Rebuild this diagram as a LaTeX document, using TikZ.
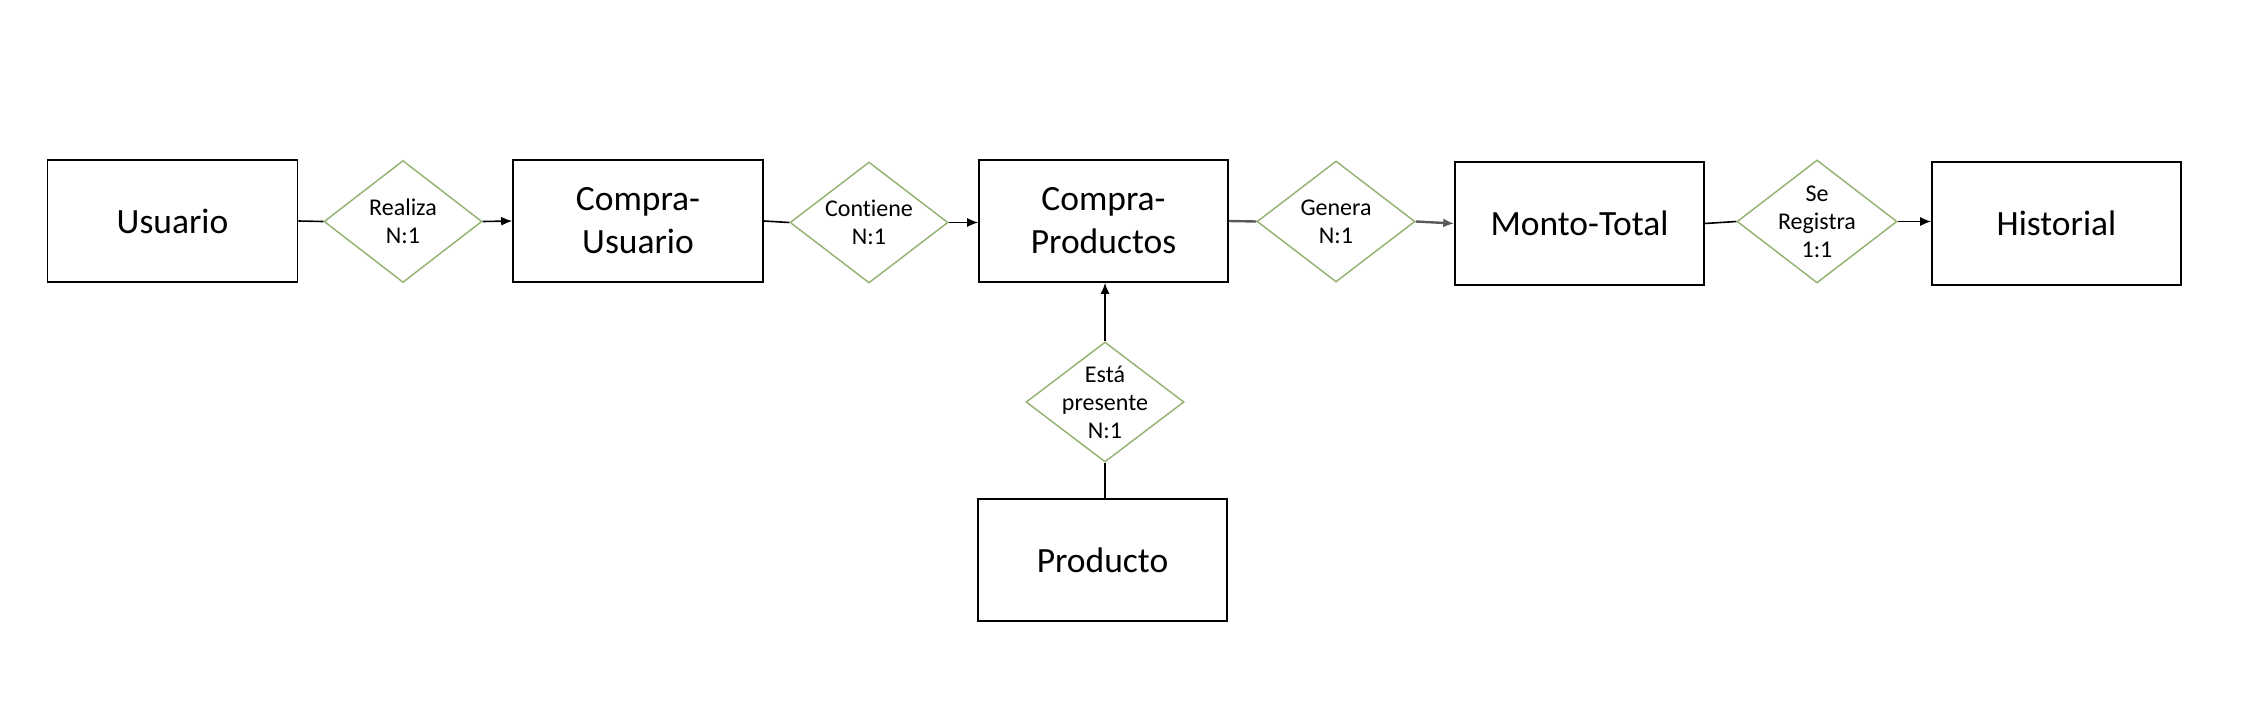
\documentclass[tikz,border=0pt]{standalone}
\usepackage{fontspec}
\setmainfont[Ligatures=NoCommon]{Carlito}
\usetikzlibrary{shapes.geometric,arrows.meta}
\definecolor{relgreen}{RGB}{150,180,115}
\definecolor{darkgrayline}{RGB}{90,90,90}
\tikzset{
  entity/.style={draw=black,line width=1.6pt,minimum width=250pt,minimum height=122pt,inner sep=0pt,
    font=\fontsize{35.5}{43}\selectfont,align=center},
  relation/.style={draw=relgreen,line width=1.5pt,shape=diamond,minimum width=158pt,minimum height=122pt,inner sep=0pt},
  reltext/.style={align=center,font=\fontsize{24}{28}\selectfont},
  link/.style={draw=black,line width=1.6pt},
  arrowlink/.style={link,-{Latex[length=11pt,width=9pt]}},
  graylink/.style={draw=darkgrayline,line width=2.4pt},
  grayarrow/.style={graylink,-{Latex[length=11pt,width=9pt]}}
}
\begin{document}
\begin{tikzpicture}[x=1pt,y=-1pt]
\useasboundingbox (0,0) rectangle (2256,720);
% entities
\node[entity] (usuario) at (172.5,221) {Usuario};
\node[entity] (cu) at (638,221) {Compra-\\Usuario};
\node[entity,minimum width=249pt] (cp) at (1103.5,221) {Compra-\\Productos};
\node[entity,minimum width=249pt,minimum height=123pt] (mt) at (1579.5,223.5) {Monto-Total};
\node[entity,minimum width=249pt,minimum height=123pt] (hist) at (2056.5,223.5) {Historial};
\node[entity,minimum width=249pt] (prod) at (1102.5,560) {Producto};
% relations
\node[relation] (realiza) at (403,221.5) {};
\node[reltext] (realizat) at (realiza.center) {Realiza\\N:1};
\node[relation,minimum height=121pt] (contiene) at (869,222.5) {};
\node[reltext] (contienet) at (contiene.center) {Contiene\\N:1};
\node[relation,minimum height=121pt] (genera) at (1336,221.5) {};
\node[reltext] (generat) at (genera.center) {Genera\\N:1};
\node[relation,minimum width=160pt,minimum height=123pt] (sereg) at (1817,221.5) {};
\node[reltext] (seregt) at (sereg.center) {Se\\Registra\\1:1};
\node[relation,minimum height=120pt] (esta) at (1105,402) {};
\node[reltext] (estat) at (esta.center) {Está\\presente\\N:1};
% connectors
\draw[link] (usuario.east) -- (realiza.west);
\draw[arrowlink] (realiza.east) -- (cu.west);
\draw[link] (cu.east) -- (contiene.west);
\draw[arrowlink] (contiene.east) -- (contiene.east -| cp.west);
\draw[graylink] (cp.east) -- (genera.west);
\draw[grayarrow] (genera.east) -- (mt.west);
\draw[link] (mt.east) -- (sereg.west);
\draw[arrowlink] (sereg.east) -- (sereg.east -| hist.west);
\draw[link] (prod.north -| esta.south) -- (esta.south);
\draw[arrowlink] (esta.north) -- (esta.north |- cp.south);
\end{tikzpicture}
\end{document}
